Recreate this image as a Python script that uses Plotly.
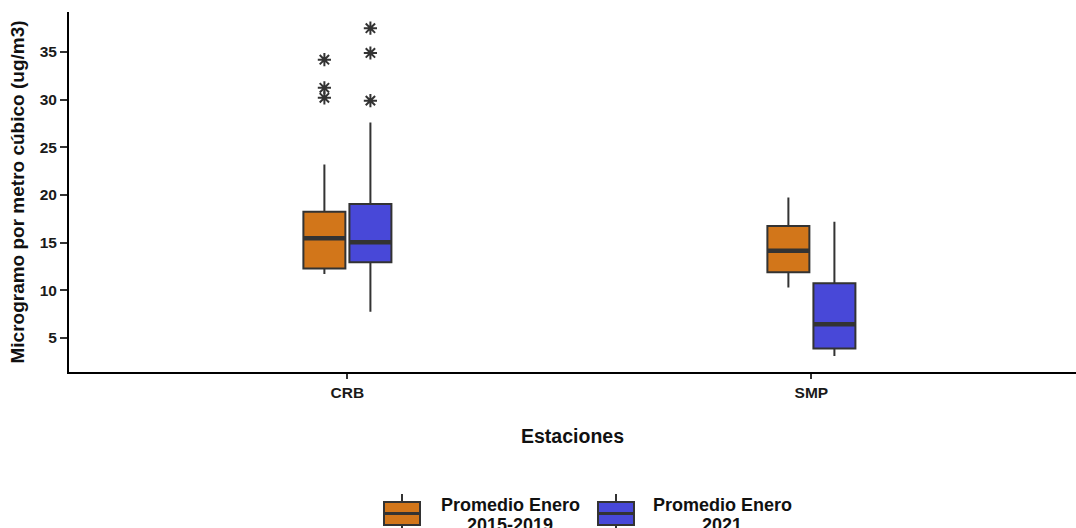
import plotly.graph_objects as go

# ---- data ----
stations = ["CRB", "SMP"]
series_line1 = ["Promedio Enero", "Promedio Enero"]
series_line2 = ["2015-2019", "2021"]
colors = ["#D2761A", "#4848D8"]

# five-number summaries per station
q1_2015 = [12.3, 11.9]
med_2015 = [15.45, 14.15]
q3_2015 = [18.25, 16.75]
lo_2015 = [11.7, 10.3]
hi_2015 = [23.2, 19.75]

q1_2021 = [12.95, 3.9]
med_2021 = [15.05, 6.45]
q3_2021 = [19.05, 10.75]
lo_2021 = [7.75, 3.1]
hi_2021 = [27.6, 17.2]

# outliers
out_2015_station = ["CRB", "CRB", "CRB"]
out_2015_values = [34.2, 31.25, 30.2]
out_2021_station = ["CRB", "CRB", "CRB"]
out_2021_values = [37.5, 34.9, 29.9]

tick_vals_y = [5, 10, 15, 20, 25, 30, 35]

# ---- layout constants ----
OFFSET = 0.0496
BOX_W = 0.0905
LINE_C = "#333333"
FONT = "Liberation Sans, Arial, sans-serif"
W, H = 1076, 528
ML, MR, MT, MB = 69, 0, 12, 156
PW, PH = W - ML - MR, H - MT - MB

idx = {s: i for i, s in enumerate(stations)}

fig = go.Figure()

groups = [
    (q1_2015, med_2015, q3_2015, lo_2015, hi_2015, out_2015_station, out_2015_values, -OFFSET),
    (q1_2021, med_2021, q3_2021, lo_2021, hi_2021, out_2021_station, out_2021_values, OFFSET),
]

for k, (q1, med, q3, lo, hi, ost, oval, off) in enumerate(groups):
    xs = [idx[s] + off for s in stations]
    fig.add_trace(go.Box(
        x=xs, q1=q1, median=med, q3=q3, lowerfence=lo, upperfence=hi,
        width=BOX_W, whiskerwidth=0,
        fillcolor=colors[k], line=dict(color=LINE_C, width=2),
        name=series_line1[k] + " " + series_line2[k], boxpoints=False,
        hoverinfo="skip", showlegend=False,
    ))
    # thicker median line like ggplot
    for xi, m in zip(xs, med):
        fig.add_trace(go.Scatter(
            x=[xi - BOX_W / 2, xi + BOX_W / 2], y=[m, m], mode="lines",
            line=dict(color=LINE_C, width=4.5), showlegend=False, hoverinfo="skip",
        ))
    fig.add_trace(go.Scatter(
        x=[idx[s] + off for s in ost], y=oval, mode="markers",
        marker=dict(symbol="asterisk-open", size=11, color=LINE_C,
                    line=dict(color=LINE_C, width=2)),
        showlegend=False, hoverinfo="skip",
    ))


# ---- custom legend (ggplot-style box keys) ----
def px_x(px):
    return (px - ML) / PW


def px_y(py):
    return (H - MB - py) / PH


shapes = []
annotations = []
key_left = [384, 598]
text_center = [510, 722]
KEY_W = 36
for k in range(2):
    x0, x1 = key_left[k], key_left[k] + KEY_W
    xc = (x0 + x1) / 2
    shapes.append(dict(type="line", xref="paper", yref="paper",
                       x0=px_x(xc), x1=px_x(xc), y0=px_y(494), y1=px_y(535),
                       line=dict(color=LINE_C, width=2), layer="above"))
    shapes.append(dict(type="rect", xref="paper", yref="paper",
                       x0=px_x(x0), x1=px_x(x1), y0=px_y(502), y1=px_y(525),
                       fillcolor=colors[k], line=dict(color=LINE_C, width=2), layer="above"))
    shapes.append(dict(type="line", xref="paper", yref="paper",
                       x0=px_x(x0), x1=px_x(x1), y0=px_y(513.5), y1=px_y(513.5),
                       line=dict(color=LINE_C, width=3), layer="above"))
    annotations.append(dict(text=series_line1[k], xref="paper", yref="paper",
                            x=px_x(text_center[k]), y=px_y(505), xanchor="center", yanchor="middle",
                            showarrow=False,
                            font=dict(size=18, family=FONT, color="#111111", weight="bold")))
    annotations.append(dict(text=series_line2[k], xref="paper", yref="paper",
                            x=px_x(text_center[k]), y=px_y(525), xanchor="center", yanchor="middle",
                            showarrow=False,
                            font=dict(size=18, family=FONT, color="#111111", weight="bold")))

fig.update_layout(
    width=W, height=H,
    margin=dict(l=ML, r=MR, t=MT, b=MB, autoexpand=False),
    plot_bgcolor="white", paper_bgcolor="white",
    font=dict(family=FONT, color="#111111"),
    showlegend=False,
    shapes=shapes,
    annotations=annotations,
    xaxis=dict(
        range=[-0.6, -0.6 + PW / 464],
        tickvals=list(range(len(stations))), ticktext=stations,
        showline=True, linecolor="black", linewidth=2,
        ticks="outside", ticklen=5, tickwidth=2, tickcolor=LINE_C,
        showgrid=False, zeroline=False, automargin=False,
        tickfont=dict(size=15.5, family=FONT, color="#1a1a1a", weight="bold"),
        title=dict(text="Estaciones", standoff=30,
                   font=dict(size=19.5, family=FONT, color="#111111", weight="bold")),
    ),
    yaxis=dict(
        range=[1.43, 39.2],
        tickvals=tick_vals_y,
        showline=True, linecolor="black", linewidth=2,
        ticks="outside", ticklen=7, tickwidth=2, tickcolor=LINE_C,
        showgrid=False, zeroline=False, automargin=False,
        tickfont=dict(size=15.5, family=FONT, color="#1a1a1a", weight="bold"),
        title=dict(text="Microgramo por metro cúbico (ug/m3)", standoff=10,
                   font=dict(size=19, family=FONT, color="#111111", weight="bold")),
    ),
)

fig.write_html("out.html", config={"displayModeBar": False},
               post_script="document.body.style.margin='0';document.body.style.overflow='hidden';")
